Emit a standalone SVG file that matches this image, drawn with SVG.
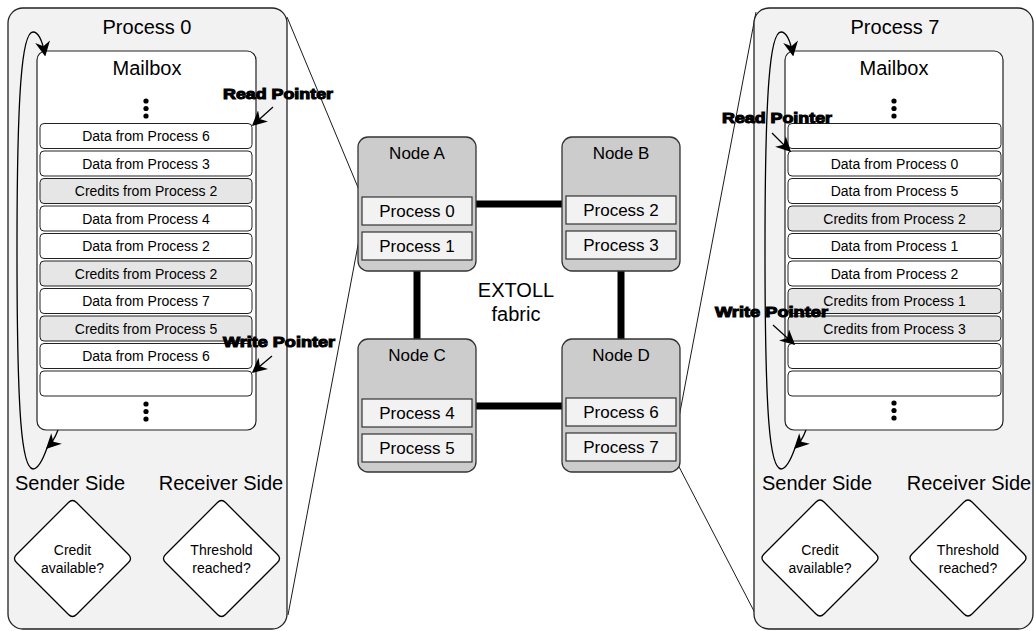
<svg xmlns="http://www.w3.org/2000/svg" xmlns:xlink="http://www.w3.org/1999/xlink" width="1034" height="631" viewBox="0 0 1034 631">
<style>
text{font-family:"Liberation Sans",Arial,sans-serif;fill:#000;text-anchor:middle}
.panel{fill:#f2f2f2;stroke:#222;stroke-width:1.3}
.mbox{fill:#fff;stroke:#222;stroke-width:1.2}
.row{fill:#fff;stroke:#222;stroke-width:1}
.cred{fill:#e6e6e6;stroke:#222;stroke-width:1}
.t20{font-size:20px}
.t17{font-size:17px}
.t14{font-size:14px}
.ptr{font-size:15px;font-weight:bold;stroke:#000;stroke-width:1.1;text-anchor:start}
.node{fill:#cccccc;stroke:#333;stroke-width:1.3}
.proc{fill:#f2f2f2;stroke:#333;stroke-width:1.2}
.link{stroke:#000;stroke-width:7;fill:none}
.thin{stroke:#000;stroke-width:0.9;fill:none}
.loop{stroke:#000;stroke-width:1.3;fill:none;marker-end:url(#ah)}
.dia{fill:#fff;stroke:#000;stroke-width:1.3}
</style>
<defs>
<marker id="ah" viewBox="0 0 10 10" refX="9" refY="5" markerWidth="15" markerHeight="15" markerUnits="userSpaceOnUse" orient="auto">
<path d="M0,0 L10,5 L0,10 L3,5 Z" fill="#000"/>
</marker>
<path id="diamond" d="M-4,-56 Q0,-60 4,-56 L56,-4 Q60,0 56,4 L4,56 Q0,60 -4,56 L-56,4 Q-60,0 -56,-4 Z"/>
<g id="dots"><circle cx="0" cy="0" r="2.6"/><circle cx="0" cy="7.5" r="2.6"/><circle cx="0" cy="15" r="2.6"/></g>
</defs>

<g id="connectors">
<line class="thin" x1="287" y1="17" x2="362" y2="197"/>
<line class="thin" x1="362" y1="224" x2="288" y2="615"/>
<line class="thin" x1="676" y1="433" x2="756" y2="12"/>
<line class="thin" x1="676" y1="461" x2="755" y2="613"/>
<line class="link" x1="476" y1="204" x2="562" y2="204"/>
<line class="link" x1="476" y1="406" x2="562" y2="406"/>
<line class="link" x1="417" y1="270" x2="417" y2="339"/>
<line class="link" x1="621" y1="270" x2="621" y2="339"/>
</g>

<g id="process0-panel">
<rect class="panel" x="8" y="8" width="279" height="621" rx="15"/>
<text class="t20" x="147" y="34">Process 0</text>
<g id="mailbox0">
<rect class="mbox" x="37" y="51" width="219" height="379" rx="9"/>
<text class="t20" x="147" y="75">Mailbox</text>
<use xlink:href="#dots" x="146" y="101"/>
<rect class="row" x="40" y="123.5" width="212" height="25" rx="4"/><text class="t14" x="146" y="141">Data from Process 6</text>
<rect class="row" x="40" y="151" width="212" height="25" rx="4"/><text class="t14" x="146" y="168.5">Data from Process 3</text>
<rect class="cred" x="40" y="178.5" width="212" height="25" rx="4"/><text class="t14" x="146" y="196">Credits from Process 2</text>
<rect class="row" x="40" y="206" width="212" height="25" rx="4"/><text class="t14" x="146" y="223.5">Data from Process 4</text>
<rect class="row" x="40" y="233.5" width="212" height="25" rx="4"/><text class="t14" x="146" y="251">Data from Process 2</text>
<rect class="cred" x="40" y="261" width="212" height="25" rx="4"/><text class="t14" x="146" y="278.5">Credits from Process 2</text>
<rect class="row" x="40" y="288.5" width="212" height="25" rx="4"/><text class="t14" x="146" y="306">Data from Process 7</text>
<rect class="cred" x="40" y="316" width="212" height="25" rx="4"/><text class="t14" x="146" y="333.5">Credits from Process 5</text>
<rect class="row" x="40" y="343.5" width="212" height="25" rx="4"/><text class="t14" x="146" y="361">Data from Process 6</text>
<rect class="row" x="40" y="371" width="212" height="25" rx="4"/>
<use xlink:href="#dots" x="146" y="404"/>
</g>
<path class="loop" d="M33,469 C22,468 17,420 17,250 C17,90 22,32 33,32 C40,32 43,44 45,55"/>
<path class="loop" d="M58,430 C55,438 51,444 47,448"/>
<path class="thin" d="M47,448 C42,462 38,469 33,469" style="stroke-width:1.3"/>
<text class="ptr" x="223" y="99" textLength="110" lengthAdjust="spacingAndGlyphs">Read Pointer</text>
<line class="loop" x1="273" y1="107" x2="253" y2="125" style="stroke-width:1.2"/>
<text class="ptr" x="223" y="347" textLength="112" lengthAdjust="spacingAndGlyphs">Write Pointer</text>
<line class="loop" x1="272" y1="356" x2="253" y2="372" style="stroke-width:1.2"/>
<text class="t20" x="70" y="490">Sender Side</text>
<text class="t20" x="221" y="490">Receiver Side</text>
<use class="dia" xlink:href="#diamond" x="72.5" y="558.5"/>
<text class="t14" x="72.5" y="555">Credit</text>
<text class="t14" x="72.5" y="573">available?</text>
<use class="dia" xlink:href="#diamond" x="221.5" y="558.5"/>
<text class="t14" x="221.5" y="555">Threshold</text>
<text class="t14" x="221.5" y="573">reached?</text>
</g>

<g id="process7-panel">
<rect class="panel" x="754" y="8" width="279" height="621" rx="15"/>
<text class="t20" x="895" y="34">Process 7</text>
<g id="mailbox7">
<rect class="mbox" x="785" y="51" width="218" height="379" rx="9"/>
<text class="t20" x="894" y="75">Mailbox</text>
<use xlink:href="#dots" x="894" y="101"/>
<rect class="row" x="788" y="123.5" width="213" height="25" rx="4"/>
<rect class="row" x="788" y="151" width="213" height="25" rx="4"/><text class="t14" x="894.5" y="168.5">Data from Process 0</text>
<rect class="row" x="788" y="178.5" width="213" height="25" rx="4"/><text class="t14" x="894.5" y="196">Data from Process 5</text>
<rect class="cred" x="788" y="206" width="213" height="25" rx="4"/><text class="t14" x="894.5" y="223.5">Credits from Process 2</text>
<rect class="row" x="788" y="233.5" width="213" height="25" rx="4"/><text class="t14" x="894.5" y="251">Data from Process 1</text>
<rect class="row" x="788" y="261" width="213" height="25" rx="4"/><text class="t14" x="894.5" y="278.5">Data from Process 2</text>
<rect class="cred" x="788" y="288.5" width="213" height="25" rx="4"/><text class="t14" x="894.5" y="306">Credits from Process 1</text>
<rect class="cred" x="788" y="316" width="213" height="25" rx="4"/><text class="t14" x="894.5" y="333.5">Credits from Process 3</text>
<rect class="row" x="788" y="343.5" width="213" height="25" rx="4"/>
<rect class="row" x="788" y="371" width="213" height="25" rx="4"/>
<use xlink:href="#dots" x="894" y="403"/>
</g>
<path class="loop" d="M781,469 C770,468 765,420 765,250 C765,90 770,32 781,32 C788,32 791,44 793,55"/>
<path class="loop" d="M806,430 C803,438 799,444 795,448"/>
<path class="thin" d="M795,448 C790,462 786,469 781,469" style="stroke-width:1.3"/>
<text class="ptr" x="722" y="123" textLength="110" lengthAdjust="spacingAndGlyphs">Read Pointer</text>
<line class="loop" x1="772" y1="133" x2="790" y2="151" style="stroke-width:1.2"/>
<text class="ptr" x="715" y="317" textLength="113" lengthAdjust="spacingAndGlyphs">Write Pointer</text>
<line class="loop" x1="773" y1="325" x2="794" y2="344" style="stroke-width:1.2"/>
<text class="t20" x="817" y="490">Sender Side</text>
<text class="t20" x="969" y="490">Receiver Side</text>
<use class="dia" xlink:href="#diamond" x="820" y="558"/>
<text class="t14" x="820" y="555">Credit</text>
<text class="t14" x="820" y="573">available?</text>
<use class="dia" xlink:href="#diamond" x="968" y="558"/>
<text class="t14" x="968" y="555">Threshold</text>
<text class="t14" x="968" y="573">reached?</text>
</g>

<g id="nodeA">
<rect class="node" x="358" y="137" width="118" height="134" rx="10"/>
<text class="t17" x="417" y="159">Node A</text>
<rect class="proc" x="362" y="197" width="110" height="28"/><text class="t17" x="417" y="217">Process 0</text>
<rect class="proc" x="362" y="232" width="110" height="28"/><text class="t17" x="417" y="252">Process 1</text>
</g>
<g id="nodeB">
<rect class="node" x="562" y="137" width="118" height="134" rx="10"/>
<text class="t17" x="621" y="159">Node B</text>
<rect class="proc" x="566" y="196" width="110" height="28"/><text class="t17" x="621" y="216">Process 2</text>
<rect class="proc" x="566" y="231" width="110" height="28"/><text class="t17" x="621" y="251">Process 3</text>
</g>
<g id="nodeC">
<rect class="node" x="358" y="339" width="118" height="133" rx="10"/>
<text class="t17" x="417" y="361">Node C</text>
<rect class="proc" x="362" y="399" width="110" height="28"/><text class="t17" x="417" y="419">Process 4</text>
<rect class="proc" x="362" y="434" width="110" height="28"/><text class="t17" x="417" y="454">Process 5</text>
</g>
<g id="nodeD">
<rect class="node" x="562" y="339" width="118" height="133" rx="10"/>
<text class="t17" x="621" y="361">Node D</text>
<rect class="proc" x="566" y="398" width="110" height="28"/><text class="t17" x="621" y="418">Process 6</text>
<rect class="proc" x="566" y="433" width="110" height="28"/><text class="t17" x="621" y="453">Process 7</text>
</g>
<g id="fabric-label">
<text class="t20" x="516" y="297">EXTOLL</text>
<text class="t20" x="516" y="321">fabric</text>
</g>
</svg>
